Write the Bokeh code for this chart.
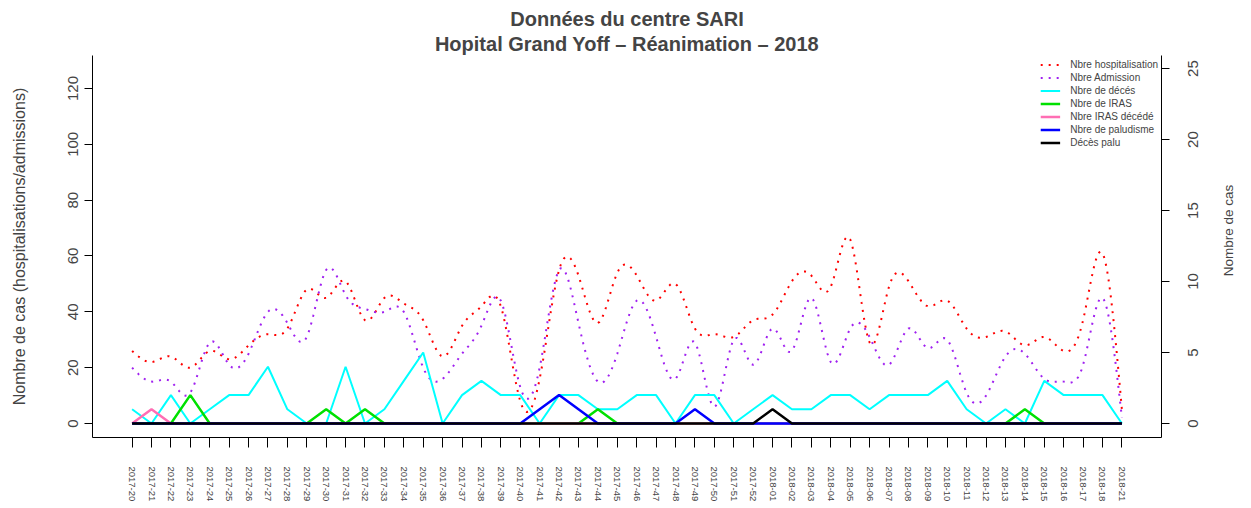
import math
import numpy as np
from bokeh.plotting import figure
from bokeh.models import Range1d, LinearAxis, FixedTicker, Title, Legend, LegendItem
from bokeh.embed import file_html
from bokeh.resources import INLINE

weeks = ["2017-20", "2017-21", "2017-22", "2017-23", "2017-24", "2017-25", "2017-26",
         "2017-27", "2017-28", "2017-29", "2017-30", "2017-31", "2017-32", "2017-33",
         "2017-34", "2017-35", "2017-36", "2017-37", "2017-38", "2017-39", "2017-40",
         "2017-41", "2017-42", "2017-43", "2017-44", "2017-45", "2017-46", "2017-47",
         "2017-48", "2017-49", "2017-50", "2017-51", "2017-52", "2018-01", "2018-02",
         "2018-03", "2018-04", "2018-05", "2018-06", "2018-07", "2018-08", "2018-09",
         "2018-10", "2018-11", "2018-12", "2018-13", "2018-14", "2018-15", "2018-16",
         "2018-17", "2018-18", "2018-21"]

hospitalisation = [26, 22, 24, 20, 26, 23, 28, 32, 34, 48, 45, 51, 37, 45, 43, 37, 24, 35,
                   42, 42, 8, 16, 55, 53, 36, 54, 53, 44, 50, 34, 32, 31, 37, 39, 51, 53,
                   49, 66, 29, 49, 51, 42, 44, 34, 31, 33, 28, 31, 26, 37, 61, 5]
admission = [20, 15, 15, 11, 29, 21, 25, 40, 36, 31, 55, 46, 41, 40, 40, 20, 16, 25,
             35, 44, 13, 20, 55, 36, 15, 25, 44, 31, 16, 29, 6, 30, 21, 34, 26, 45,
             22, 34, 31, 21, 34, 27, 30, 11, 10, 24, 25, 16, 15, 21, 45, 2]
deces = [1, 0, 2, 0, 1, 2, 2, 4, 1, 0, 0, 4, 0, 1, 3, 5, 0, 2, 3, 2, 2, 0, 2, 2, 1, 1,
         2, 2, 0, 2, 2, 0, 1, 2, 1, 1, 2, 2, 1, 2, 2, 2, 3, 1, 0, 1, 0, 3, 2, 2, 2, 0]
iras = [0, 0, 0, 2, 0, 0, 0, 0, 0, 0, 1, 0, 1, 0, 0, 0, 0, 0, 0, 0, 0, 0, 0, 0, 1, 0,
        0, 0, 0, 0, 0, 0, 0, 0, 0, 0, 0, 0, 0, 0, 0, 0, 0, 0, 0, 0, 1, 0, 0, 0, 0, 0]
iras_deces = [0, 1, 0, 0, 0, 0, 0, 0, 0, 0, 0, 0, 0, 0, 0, 0, 0, 0, 0, 0, 0, 0, 0, 0, 0, 0,
              0, 0, 0, 0, 0, 0, 0, 0, 0, 0, 0, 0, 0, 0, 0, 0, 0, 0, 0, 0, 0, 0, 0, 0, 0, 0]
paludisme = [0, 0, 0, 0, 0, 0, 0, 0, 0, 0, 0, 0, 0, 0, 0, 0, 0, 0, 0, 0, 0, 1, 2, 1, 0, 0,
             0, 0, 0, 1, 0, 0, 0, 0, 0, 0, 0, 0, 0, 0, 0, 0, 0, 0, 0, 0, 0, 0, 0, 0, 0, 0]
deces_palu = [0, 0, 0, 0, 0, 0, 0, 0, 0, 0, 0, 0, 0, 0, 0, 0, 0, 0, 0, 0, 0, 0, 0, 0, 0, 0,
              0, 0, 0, 0, 0, 0, 0, 1, 0, 0, 0, 0, 0, 0, 0, 0, 0, 0, 0, 0, 0, 0, 0, 0, 0, 0]

left_ticks = [0, 20, 40, 60, 80, 100, 120]
right_ticks = [0, 5, 10, 15, 20, 25]

legend_labels = ["Nbre hospitalisation", "Nbre Admission", "Nbre de décés", "Nbre de IRAS",
                 "Nbre IRAS décédé", "Nbre de paludisme", "Décès palu"]
right_title = "Nombre de cas"


def natural_spline(y, per=12):
    """Smooth drawing of a weekly series (natural cubic spline through the points)."""
    y = np.asarray(y, dtype=float)
    n = len(y)
    x = np.arange(n, dtype=float)
    A = np.zeros((n, n))
    b = np.zeros(n)
    A[0, 0] = 1.0
    A[-1, -1] = 1.0
    for i in range(1, n - 1):
        A[i, i - 1] = 1.0
        A[i, i] = 4.0
        A[i, i + 1] = 1.0
        b[i] = 6.0 * (y[i + 1] - 2 * y[i] + y[i - 1])
    M = np.linalg.solve(A, b)
    xs, ys = [], []
    for i in range(n - 1):
        t = np.linspace(0, 1, per, endpoint=False)
        a = 1 - t
        yy = a * y[i] + t * y[i + 1] + ((a ** 3 - a) * M[i] + (t ** 3 - t) * M[i + 1]) / 6.0
        xs.extend(x[i] + t)
        ys.extend(yy)
    xs.append(x[-1])
    ys.append(y[-1])
    return xs, ys


FONT = "Liberation Sans"
idx = list(range(len(weeks)))

W, H = 1247, 506
BL, BR, BT, BB = 92, 86, 55, 69
XR = (-2.04, 53.04)
YR_RIGHT = (-0.986, 25.92)

p = figure(width=W, height=H, output_backend="svg", toolbar_location=None,
           x_range=Range1d(*XR), y_range=Range1d(-5.015, 131.82),
           min_border_left=BL, min_border_right=BR, min_border_top=BT, min_border_bottom=BB,
           outline_line_color=None, title=None)
p.grid.visible = False
p.extra_y_ranges = {"right": Range1d(*YR_RIGHT)}

# titles (inner line first)
p.add_layout(Title(text="Hopital Grand Yoff – Réanimation – 2018", align="center",
                   text_font=FONT, text_font_size="20px", text_font_style="bold",
                   standoff=2, offset=0), "above")
p.add_layout(Title(text="Données du centre SARI", align="center",
                   text_font=FONT, text_font_size="20px", text_font_style="bold",
                   standoff=0, offset=0), "above")

# x axis (its line is the bottom of the U-shaped box)
xa = p.xaxis[0]
xa.ticker = FixedTicker(ticks=idx)
xa.major_label_overrides = {i: w for i, w in zip(idx, weeks)}
xa.major_label_orientation = "vertical"
xa.major_label_text_font = FONT
xa.major_label_text_font_size = "9.5px"
xa.major_label_standoff = 19
xa.major_tick_out = 10
xa.major_tick_in = 0
xa.minor_tick_line_color = None
xa.axis_line_color = "black"

# left axis
ya = p.yaxis[0]
ya.ticker = FixedTicker(ticks=left_ticks)
ya.major_label_orientation = "vertical"
ya.major_label_text_font = FONT
ya.major_label_text_font_size = "15px"
ya.major_label_standoff = 6
ya.major_tick_out = 8
ya.major_tick_in = 0
ya.minor_tick_line_color = None
ya.axis_line_color = "black"
ya.axis_label = "Nombre de cas (hospitalisations/admissions)"
ya.axis_label_text_font = FONT
ya.axis_label_text_font_size = "16px"
ya.axis_label_text_font_style = "normal"
ya.axis_label_standoff = 38

# right axis: line + ticks
ra = LinearAxis(y_range_name="right", ticker=FixedTicker(ticks=right_ticks))
ra.major_label_overrides = {v: "" for v in right_ticks}
ra.major_label_text_font_size = "1px"
ra.major_label_standoff = 0
ra.major_tick_out = 8
ra.major_tick_in = 0
ra.minor_tick_line_color = None
ra.axis_line_color = "black"
p.add_layout(ra, "right")

# right axis: tick labels, read bottom-to-top and centred on their ticks
frame_h = H - BT - BB
px_per_unit = frame_h / (YR_RIGHT[1] - YR_RIGHT[0])
label_px = 15
shifted = [v - len(str(v)) * 0.556 * label_px / 2 / px_per_unit for v in right_ticks]
rl = LinearAxis(y_range_name="right", ticker=FixedTicker(ticks=shifted))
rl.major_label_overrides = {s: str(v) for s, v in zip(shifted, right_ticks)}
rl.major_label_orientation = math.pi / 2
rl.major_label_text_font = FONT
rl.major_label_text_font_size = f"{label_px}px"
rl.major_label_standoff = 24
rl.major_tick_out = 0
rl.major_tick_in = 0
rl.major_tick_line_color = None
rl.minor_tick_line_color = None
rl.axis_line_color = None
p.add_layout(rl, "right")

# right axis title (read bottom-to-top), as the single label of an outer axis
title_px = 13.5
title_len = 6.78 * title_px
title_start = YR_RIGHT[0] + (437 - (230 + title_len / 2)) / px_per_unit
rt = LinearAxis(y_range_name="right", ticker=FixedTicker(ticks=[title_start]))
rt.major_label_overrides = {title_start: right_title}
rt.major_label_orientation = math.pi / 2
rt.major_label_text_font = FONT
rt.major_label_text_font_size = f"{title_px}px"
rt.major_label_standoff = 22
rt.major_tick_out = 0
rt.major_tick_in = 0
rt.major_tick_line_color = None
rt.minor_tick_line_color = None
rt.axis_line_color = None
p.add_layout(rt, "right")

hx, hy = natural_spline(hospitalisation)
ax_, ay = natural_spline(admission)
r1 = p.line(hx, hy, line_color="#FF0000", line_width=2, line_dash="2 6")
r2 = p.line(ax_, ay, line_color="#A020F0", line_width=2, line_dash="2 6")
r3 = p.line(idx, deces, line_color="#00FFFF", line_width=2, y_range_name="right")
r4 = p.line(idx, iras, line_color="#00E000", line_width=2.5, y_range_name="right")
r5 = p.line(idx, iras_deces, line_color="#FF6EB4", line_width=2.5, y_range_name="right")
r6 = p.line(idx, paludisme, line_color="#0000FF", line_width=2.5, y_range_name="right")
r7 = p.line(idx, deces_palu, line_color="#000000", line_width=2.5, y_range_name="right")

legend = Legend(items=[LegendItem(label=l, renderers=[r]) for l, r in
                       zip(legend_labels, [r1, r2, r3, r4, r5, r6, r7])],
                location="top_right", label_text_font=FONT, label_text_font_size="10px",
                glyph_width=20, glyph_height=13, label_height=13, label_standoff=10,
                spacing=0, padding=3, margin=3, border_line_color=None,
                background_fill_alpha=0)
p.add_layout(legend)

open("out.html", "w").write(file_html(p, INLINE))
